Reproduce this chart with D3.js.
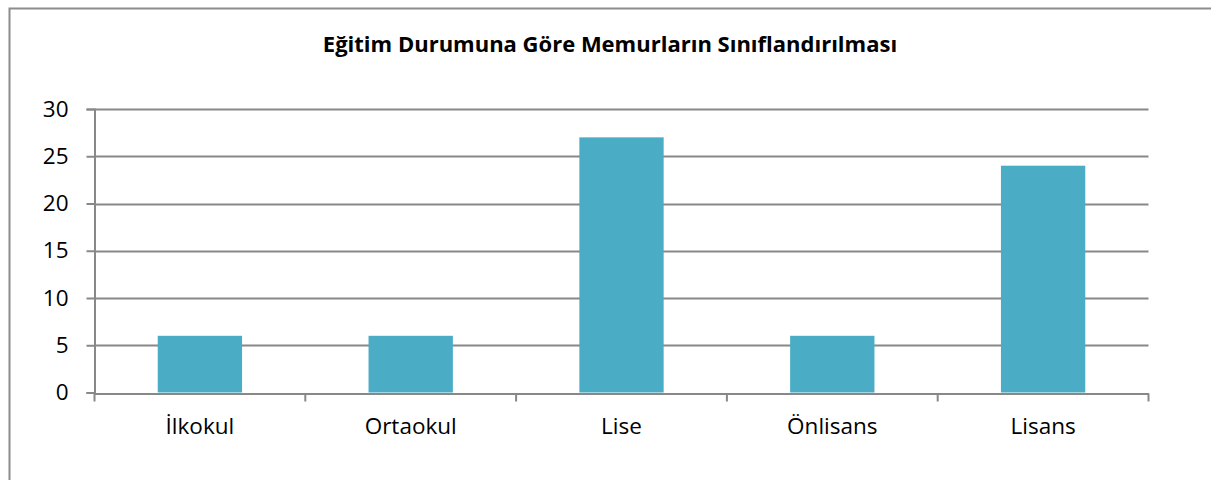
<!DOCTYPE html>
<html><head><meta charset="utf-8">
<script src="https://cdn.jsdelivr.net/npm/d3@7"></script>
<style>body{margin:0;background:#fff}svg{display:block}</style>
</head><body>
<svg id="c" width="1211" height="480"></svg>
<script>
const categories = ["İlkokul", "Ortaokul", "Lise", "Önlisans", "Lisans"];
const values = [6, 6, 27, 6, 24];
const yTicks = [0, 5, 10, 15, 20, 25, 30];
const title = "Eğitim Durumuna Göre Memurların Sınıflandırılması";

(function () {
const svg = d3.select("#c");
const font = "'Open Sans', sans-serif";
const grid = "#888888";

// outer chart border (extends past the window on the right and bottom)
svg.append("rect").attr("x", 9.5).attr("y", 8.5).attr("width", 1300).attr("height", 600)
  .attr("fill", "none").attr("stroke", "#8c8c8c").attr("stroke-width", 2);

const pL = 94.5, pR = 1148.5, pT = 109, pB = 392.5;
const x = d3.scaleBand().domain(categories).range([pL, pR]).paddingInner(0.6).paddingOuter(0.3);
const xb = d3.scaleBand().domain(categories).range([pL, pR]);
const y = d3.scaleLinear().domain([0, 30]).range([pB, pT]);

// gridlines
svg.append("g").selectAll("line").data(yTicks.filter(d => d > 0)).join("line")
  .attr("x1", pL).attr("x2", pR).attr("y1", d => Math.round(y(d)) + 0.5).attr("y2", d => Math.round(y(d)) + 0.5)
  .attr("stroke", grid).attr("stroke-width", 2);

// bars
svg.append("g").selectAll("rect").data(values).join("rect")
  .attr("x", (d, i) => x(categories[i])).attr("width", x.bandwidth())
  .attr("y", d => y(d)).attr("height", d => y(0) - y(d))
  .attr("fill", "#4BACC6");

// y axis
const ya = svg.append("g").attr("transform", `translate(${pL},0)`)
  .call(d3.axisLeft(y).tickValues(yTicks).tickSize(8).tickPadding(18));
ya.select(".domain").attr("stroke", grid).attr("stroke-width", 2);
ya.selectAll(".tick line").attr("stroke", grid).attr("stroke-width", 2);
ya.selectAll(".tick text").attr("font-family", font).attr("font-size", 22.5).attr("fill", "#000");

// x axis
const xa = svg.append("g").attr("transform", `translate(0,${Math.round(y(0)) + 0.5})`)
  .call(d3.axisBottom(xb).tickSize(0));
xa.select(".domain").attr("stroke", grid).attr("stroke-width", 2);
xa.selectAll(".tick text").attr("font-family", font).attr("font-size", 22.5).attr("fill", "#000")
  .attr("dy", null).attr("y", 434 - (Math.round(y(0)) + 0.5));
// boundary ticks
const bounds = categories.map(c => xb(c)).concat([pR]);
xa.append("g").selectAll("line").data(bounds).join("line")
  .attr("x1", d => d).attr("x2", d => d).attr("y1", 0).attr("y2", 8)
  .attr("stroke", grid).attr("stroke-width", 2);

svg.append("text").attr("x", 610).attr("y", 52).attr("text-anchor", "middle")
  .attr("font-family", font).attr("font-weight", "bold").attr("font-size", 22)
  .attr("fill", "#000").text(title);
})();
</script>
</body></html>
